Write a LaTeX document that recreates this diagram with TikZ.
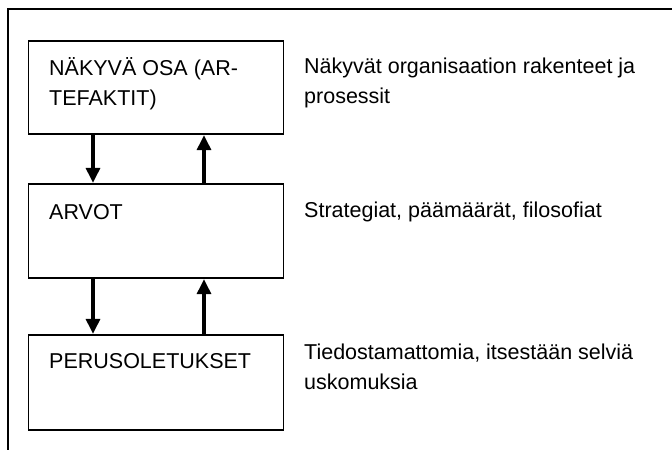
\documentclass[tikz,border=0pt]{standalone}
\usepackage{fontspec}
\setmainfont{Liberation Sans}
\usetikzlibrary{arrows.meta}
\begin{document}
\begin{tikzpicture}[x=1pt,y=-1pt,
  level/.style={draw,line width=1.8pt,minimum width=255pt,inner sep=0pt},
  txt/.style={anchor=base west,inner sep=0pt,align=left,
    font=\fontsize{21.5}{30}\selectfont},
  flow/.style={line width=3.2pt,-{Triangle[width=14pt,length=15pt]}}]
\useasboundingbox (0,0) rectangle (672,450);
% open frame: top and left edges
\draw[line width=1.8pt] (672,9) -- (8,9) -- (8,450);

% the three levels
\node[level,minimum height=93.5pt] (b1) at (156,87.5) {};
\node[level,minimum height=94.5pt] (b2) at (156,231) {};
\node[level,minimum height=95.5pt] (b3) at (156,382.5) {};

% level titles (anchored on the baseline of the last line)
\node[txt] (t1) at (49,105) {NÄKYVÄ OSA (AR-\\TEFAKTIT)};
\node[txt] (t2) at (49,219) {ARVOT};
\node[txt] (t3) at (49,368) {PERUSOLETUKSET};

% descriptions
\node[txt] (d1) at (304,103) {Näkyvät organisaation rakenteet ja\\prosessit};
\node[txt] (d2) at (304,217) {Strategiat, päämäärät, filosofiat};
\node[txt] (d3) at (304,389) {Tiedostamattomia, itsestään selviä\\uskomuksia};

% arrows between levels
\coordinate (xd) at (93,0);
\coordinate (xu) at (204,0);
\draw[flow] (b1.south -| xd) -- (b2.north -| xd);
\draw[flow] (b2.north -| xu) -- (b1.south -| xu);
\draw[flow] (b2.south -| xd) -- (b3.north -| xd);
\draw[flow] (b3.north -| xu) -- (b2.south -| xu);
\end{tikzpicture}
\end{document}
